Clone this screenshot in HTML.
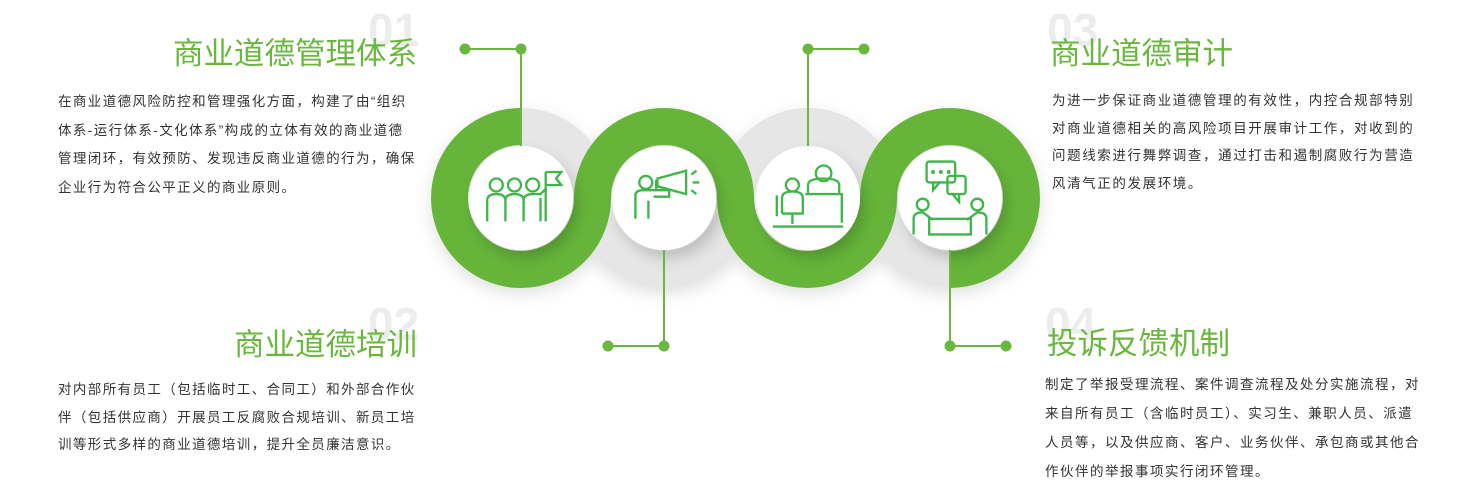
<!DOCTYPE html>
<html><head><meta charset="utf-8">
<style>
html,body{margin:0;padding:0;background:#fff;}
body{width:1477px;height:495px;position:relative;overflow:hidden;font-family:"Liberation Sans","Noto Sans CJK SC",sans-serif;}
.num{position:absolute;font-size:46px;font-weight:bold;color:#ececec;line-height:1;font-family:"Liberation Sans",sans-serif;}
.t{position:absolute;font-size:30.5px;color:#6ab73e;line-height:1;white-space:nowrap;}
.p{position:absolute;font-size:13.5px;color:#333;white-space:nowrap;letter-spacing:1.3px;}
</style></head><body>
<div class="num" style="left:368px;top:7px;">01</div>
<div class="t" style="right:1060px;top:39px;">商业道德管理体系</div>
<div class="p" style="left:58px;top:88px;line-height:28.7px;letter-spacing:1.4px;">在商业道德风险防控和管理强化方面，构建了由“组织<br>体系-运行体系-文化体系”构成的立体有效的商业道德<br>管理闭环，有效预防、发现违反商业道德的行为，确保<br>企业行为符合公平正义的商业原则。</div>

<div class="num" style="left:368px;top:301px;">02</div>
<div class="t" style="right:1060px;top:330px;">商业道德培训</div>
<div class="p" style="left:58px;top:376px;line-height:27.5px;letter-spacing:1.4px;">对内部所有员工（包括临时工、合同工）和外部合作伙<br>伴（包括供应商）开展员工反腐败合规培训、新员工培<br>训等形式多样的商业道德培训，提升全员廉洁意识。</div>

<div class="num" style="left:1047px;top:7px;">03</div>
<div class="t" style="left:1050px;top:39px;">商业道德审计</div>
<div class="p" style="left:1052px;top:87px;line-height:27.5px;letter-spacing:1.6px;">为进一步保证商业道德管理的有效性，内控合规部特别<br>对商业道德相关的高风险项目开展审计工作，对收到的<br>问题线索进行舞弊调查，通过打击和遏制腐败行为营造<br>风清气正的发展环境。</div>

<div class="num" style="left:1045px;top:301px;">04</div>
<div class="t" style="left:1047px;top:329px;">投诉反馈机制</div>
<div class="p" style="left:1045px;top:370px;line-height:29px;letter-spacing:1.5px;">制定了举报受理流程、案件调查流程及处分实施流程，对<br>来自所有员工（含临时员工）、实习生、兼职人员、派遣<br>人员等，以及供应商、客户、业务伙伴、承包商或其他合<br>作伙伴的举报事项实行闭环管理。</div>

<svg width="1477" height="495" style="position:absolute;left:0;top:0;" xmlns="http://www.w3.org/2000/svg">
<defs>
<filter id="sh" x="-50%" y="-50%" width="200%" height="200%"><feDropShadow dx="5" dy="8" stdDeviation="7" flood-color="#000" flood-opacity="0.18"/></filter>
<filter id="gs" x="-50%" y="-50%" width="200%" height="200%"><feDropShadow dx="0" dy="6" stdDeviation="8" flood-color="#000" flood-opacity="0.12"/></filter>
</defs>
<g fill="none" stroke="#e6e6e6" stroke-width="37" filter="url(#gs)">
<circle cx="521" cy="198" r="71.5"/><circle cx="664" cy="198" r="71.5"/><circle cx="808" cy="198" r="71.5"/><circle cx="950" cy="198" r="71.5"/>
</g>
<path d="M521,126.5 A71.5,71.5 0 1,0 592.5,198 A71.5,71.5 0 0,1 735.5,198 A71.5,71.5 0 0,0 878.5,198 A71.5,71.5 0 0,1 1021.5,198 A71.5,71.5 0 0,1 950,269.5" fill="none" stroke="#66b53a" stroke-width="37"/>
<g fill="#fff" filter="url(#sh)">
<circle cx="521" cy="198" r="52"/><circle cx="664" cy="198" r="52"/><circle cx="808" cy="198" r="52"/><circle cx="950" cy="198" r="52"/>
</g>
<g stroke="#6ab73e" stroke-width="2" fill="#6ab73e">
<line x1="465" y1="49" x2="521" y2="49"/><line x1="521" y1="49" x2="521" y2="146"/>
<circle cx="465" cy="49" r="5.5" stroke="none"/><circle cx="521" cy="49" r="5.5" stroke="none"/>
<line x1="608" y1="346" x2="664" y2="346"/><line x1="664" y1="250" x2="664" y2="346"/>
<circle cx="608" cy="346" r="5.5" stroke="none"/><circle cx="664" cy="346" r="5.5" stroke="none"/>
<line x1="808" y1="49" x2="864" y2="49"/><line x1="808" y1="49" x2="808" y2="146"/>
<circle cx="808" cy="49" r="5.5" stroke="none"/><circle cx="864" cy="49" r="5.5" stroke="none"/>
<line x1="950" y1="346" x2="1006" y2="346"/><line x1="950" y1="250" x2="950" y2="346"/>
<circle cx="950" cy="346" r="5.5" stroke="none"/><circle cx="1006" cy="346" r="5.5" stroke="none"/>
</g>
<g fill="none" stroke="#3fb54a" stroke-width="1.8">
<g transform="translate(521,198) scale(1.3) translate(-521,-196)">
<circle cx="502" cy="186" r="5"/><circle cx="516" cy="186" r="5"/><circle cx="530" cy="186" r="5"/>
<path d="M495,214 v-16 q0,-5 7,-5 q7,0 7,5 v16 M509,214 v-16 q0,-5 7,-5 q7,0 7,5 v16 M523,214 v-16 q0,-5 7,-5 h6 l4,-4 M540,176 v38 M540,176 h12 l-4,5 l4,5 h-12 M536,214 v-18"/>
</g>
<g transform="translate(664,198) scale(1.3) translate(-668,-196)">
<circle cx="654" cy="184" r="5"/>
<path d="M646,212 v-18 q0,-4 6,-4 h10 v-8 M656,212 v-14 M660,190 h12 v5 h-12 M663,181 l22,-6 v18 l-22,-6 z M689,178 l4,-3 M690,184 h5 M689,190 l4,3"/>
</g>
<g transform="translate(808,198) scale(1.3) translate(-806,-200)">
<circle cx="794" cy="190" r="5"/><circle cx="818" cy="181" r="6"/>
<path d="M786,212 v-12 q0,-5 8,-5 q8,0 8,5 v12 h-16 M794,212 v8 M782,198 v16 M806,196 v-6 q0,-5 12,-5 q12,0 12,5 v6 M804,197 h28 v22 M779,222 h54"/>
</g>
<g transform="translate(950,198) scale(1.3) translate(-951,-194)">
<rect x="933" y="166" width="22" height="16" rx="2"/><path d="M938,182 v6 l5,-6"/>
<rect x="949" y="177" width="14" height="14" rx="2"/><path d="M958,191 v6 l-5,-6"/>
<circle cx="930" cy="199" r="4.5"/><circle cx="972" cy="199" r="4.5"/>
<path d="M923,222 v-12 q0,-5 7,-5 l8,6 M979,222 v-12 q0,-5 -7,-5 l-8,6 M935,210 h32 v12 h-32 z"/>
<g fill="#3fb54a" stroke="none"><circle cx="938" cy="174" r="1.5"/><circle cx="944" cy="174" r="1.5"/><circle cx="950" cy="174" r="1.5"/></g>
</g>
</g>
</svg>
</body></html>
